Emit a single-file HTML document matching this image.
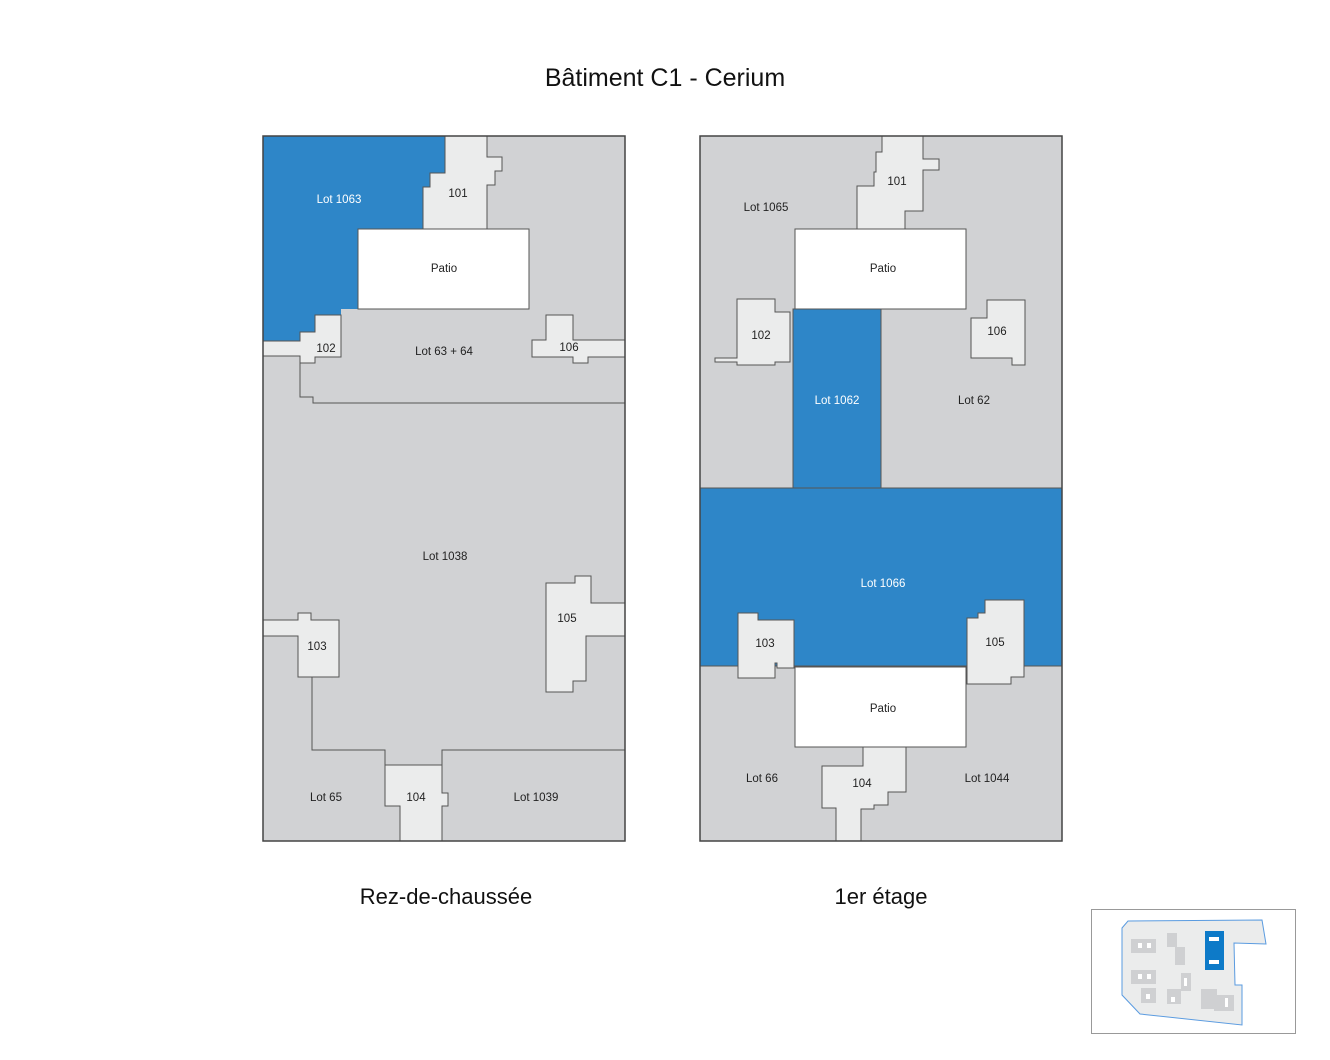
<!DOCTYPE html>
<html><head><meta charset="utf-8"><style>
html,body{margin:0;padding:0;background:#fff;}
svg{display:block;font-family:"Liberation Sans",sans-serif;}
</style></head><body>
<svg width="1330" height="1060" viewBox="0 0 1330 1060" xmlns="http://www.w3.org/2000/svg">
<rect width="1330" height="1060" fill="#fff"/>
<text x="665" y="86" font-size="25" text-anchor="middle" fill="#111">Bâtiment C1 - Cerium</text>

<!-- LEFT PLAN -->
<g stroke="#555" stroke-width="1">
<rect x="263" y="136" width="362" height="705" fill="#d1d2d4"/>
<polygon fill="#2e86c8" stroke="none" points="263,136 445,136 445,173 430,173 430,187 423,187 423,229 358,229 358,309 341,309 341,315 315,315 315,332 300,332 300,341 263,341"/>
<polygon fill="#ebecec" points="445,136 487,136 487,157 502,157 502,171 495,171 495,185 487,185 487,229 423,229 423,187 430,187 430,173 445,173"/>
<polygon fill="#ebecec" points="263,341 300,341 300,332 315,332 315,315 341,315 341,357 315,357 315,363 300,363 300,356 263,356"/>
<polyline fill="none" points="300,363 300,397 313,397 313,403 625,403"/>
<polygon fill="#ebecec" points="532,340 546,340 546,315 573,315 573,340 625,340 625,357 588,357 588,363 573,363 573,357 532,357"/>
<rect x="358" y="229" width="171" height="80" fill="#fff"/>
<polygon fill="#ebecec" points="263,620 298,620 298,613 311,613 311,620 339,620 339,677 298,677 298,636 263,636"/>
<polygon fill="#ebecec" points="546,583 575,583 575,576 591,576 591,603 625,603 625,636 586,636 586,681 573,681 573,692 546,692"/>
<polyline fill="none" points="312,677 312,750 385,750 385,765"/>
<polyline fill="none" points="442,765 442,750 625,750"/>
<polygon fill="#ebecec" points="385,765 442,765 442,793 448,793 448,806 442,806 442,841 400,841 400,806 385,806"/>
<rect x="263" y="136" width="362" height="705" fill="none" stroke="#444" stroke-width="1.5"/>
</g>
<g font-size="11.5" text-anchor="middle" fill="#222">
<text x="339" y="203" fill="#fff">Lot 1063</text>
<text x="458" y="197">101</text>
<text x="444" y="272">Patio</text>
<text x="326" y="352">102</text>
<text x="444" y="355">Lot 63 + 64</text>
<text x="569" y="351">106</text>
<text x="445" y="560">Lot 1038</text>
<text x="567" y="622">105</text>
<text x="317" y="650">103</text>
<text x="326" y="801">Lot 65</text>
<text x="416" y="801">104</text>
<text x="536" y="801">Lot 1039</text>
</g>

<!-- RIGHT PLAN -->
<g stroke="#555" stroke-width="1">
<rect x="700" y="136" width="362" height="705" fill="#d1d2d4"/>
<rect x="793" y="309" width="88" height="179" fill="#2e86c8"/>
<rect x="700" y="488" width="362" height="178" fill="#2e86c8"/>
<polygon fill="#ebecec" points="882,136 923,136 923,159 939,159 939,170 923,170 923,211 905,211 905,229 857,229 857,186 874,186 874,172 876,172 876,152 882,152"/>
<rect x="795" y="229" width="171" height="80" fill="#fff"/>
<polygon fill="#ebecec" points="737,299 775,299 775,312 790,312 790,362 775,362 775,365 737,365 737,362 715,362 715,358 737,358"/>
<polygon fill="#ebecec" points="987,300 1025,300 1025,365 1012,365 1012,358 971,358 971,318 987,318"/>
<polygon fill="#ebecec" points="738,613 758,613 758,620 794,620 794,668 777,668 777,663 775,663 775,678 738,678"/>
<polygon fill="#ebecec" points="985,600 1024,600 1024,677 1011,677 1011,684 967,684 967,618 978,618 978,613 985,613"/>
<rect x="795" y="667" width="171" height="80" fill="#fff"/>
<polygon fill="#ebecec" points="863,747 906,747 906,792 888,792 888,805 874,805 874,809 861,809 861,841 836,841 836,808 822,808 822,766 863,766"/>
<rect x="700" y="136" width="362" height="705" fill="none" stroke="#444" stroke-width="1.5"/>
</g>
<g font-size="11.5" text-anchor="middle" fill="#222">
<text x="897" y="185">101</text>
<text x="766" y="211">Lot 1065</text>
<text x="883" y="272">Patio</text>
<text x="761" y="339">102</text>
<text x="997" y="335">106</text>
<text x="837" y="404" fill="#fff">Lot 1062</text>
<text x="974" y="404">Lot 62</text>
<text x="883" y="587" fill="#fff">Lot 1066</text>
<text x="765" y="647">103</text>
<text x="995" y="646">105</text>
<text x="883" y="712">Patio</text>
<text x="762" y="782">Lot 66</text>
<text x="862" y="787">104</text>
<text x="987" y="782">Lot 1044</text>
</g>

<text x="446" y="904" font-size="22" text-anchor="middle" fill="#111">Rez-de-chaussée</text>
<text x="881" y="904" font-size="22" text-anchor="middle" fill="#111">1er étage</text>

<!-- MINIMAP -->
<rect x="1091.5" y="909.5" width="204" height="124" fill="#fff" stroke="#999" stroke-width="1"/>
<polygon fill="#ebecec" stroke="#5a9be0" stroke-width="1" points="1122,928 1128,921 1262,920 1266,944 1234,943 1235,985 1242,985 1242,1025 1140,1014 1122,995"/>
<g fill="#cfd0d2">
<rect x="1131" y="939" width="25" height="14"/>
<rect x="1167" y="933" width="10" height="14"/>
<rect x="1175" y="947" width="10" height="18"/>
<rect x="1131" y="970" width="25" height="14"/>
<rect x="1141" y="988" width="15" height="15"/>
<rect x="1181" y="973" width="10" height="18"/>
<rect x="1167" y="989" width="14" height="15"/>
<rect x="1201" y="989" width="16" height="20"/>
<rect x="1214" y="995" width="20" height="16"/>
</g>
<g fill="#fff">
<rect x="1138" y="943" width="4" height="5"/><rect x="1147" y="943" width="4" height="5"/>
<rect x="1138" y="974" width="4" height="5"/><rect x="1147" y="974" width="4" height="5"/>
<rect x="1146" y="994" width="4" height="5"/>
<rect x="1171" y="997" width="4" height="5"/>
<rect x="1184" y="978" width="3" height="8"/>
<rect x="1225" y="998" width="3" height="9"/>
</g>
<rect x="1205" y="931" width="19" height="39" fill="#0d7ac8"/>
<rect x="1209" y="937" width="10" height="4" fill="#fff"/>
<rect x="1209" y="960" width="10" height="4" fill="#fff"/>
</svg>
</body></html>
